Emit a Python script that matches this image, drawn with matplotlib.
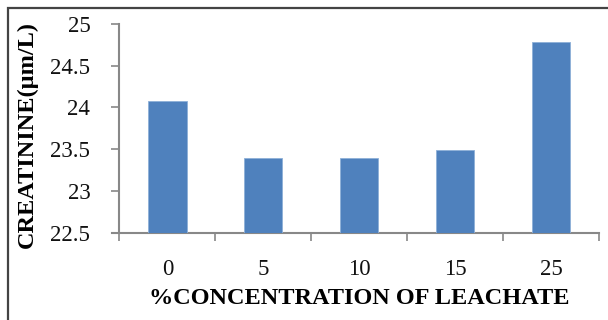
import numpy as np
import matplotlib.pyplot as plt
from matplotlib.patches import Rectangle

concentration = ["0", "5", "10", "15", "25"]
creatinine = [24.08, 23.39, 23.39, 23.49, 24.78]
y_ticks = [22.5, 23, 23.5, 24, 24.5, 25]
y_tick_labels = ["22.5", "23", "23.5", "24", "24.5", "25"]

plt.rcParams['font.family'] = ['Liberation Serif', 'DejaVu Serif']

fig = plt.figure(figsize=(6.08, 3.2), dpi=100)
ax = fig.add_axes([0.1965, 0.2734, 0.7885, 0.6516])

x = np.arange(len(concentration))
ax.bar(x, creatinine, width=0.4, bottom=0, color='#4F81BD',
       edgecolor='#8EB0D8', linewidth=0.6, zorder=3)

ax.set_xlim(-0.5, len(concentration) - 0.5)
ax.set_ylim(22.5, 25)
ax.set_yticks(y_ticks)
ax.set_yticklabels(y_tick_labels)
ax.set_xticks(x)
ax.set_xticklabels(concentration)
# tick marks sit on the category boundaries, labels in the middle
ax.set_xticks(np.arange(len(concentration) + 1) - 0.5, minor=True)
ax.tick_params(axis='x', which='major', length=0, pad=19)
ax.tick_params(axis='x', which='minor', length=6, width=1.2, color='#888888')
ax.tick_params(axis='y', length=6, width=1.2, color='#888888', pad=15)
ax.tick_params(labelsize=16.5, labelcolor='#111111')

for side in ['top', 'right']:
    ax.spines[side].set_visible(False)
for side in ['left', 'bottom']:
    ax.spines[side].set_color('#888888')
    ax.spines[side].set_linewidth(1.5)
ax.spines['bottom'].set_bounds(-0.5 - 0.075, len(concentration) - 0.5)

ax.set_xlabel("%CONCENTRATION OF LEACHATE", fontsize=17.5, fontweight='bold',
              color='#000000', labelpad=6)
fig.text(0.045, 0.58, "CREATININE(µm/L)", rotation=90, fontsize=17.5,
         fontweight='bold', color='#000000', ha='center', va='center')

# frame around the chart, open at the right and bottom
fig.patches.append(Rectangle((8 / 608, -0.1), 1.1, 1 - 8 / 320 + 0.1,
                             transform=fig.transFigure, fill=False,
                             edgecolor='#444444', linewidth=1.6))

fig.savefig("out.png", dpi=100)
